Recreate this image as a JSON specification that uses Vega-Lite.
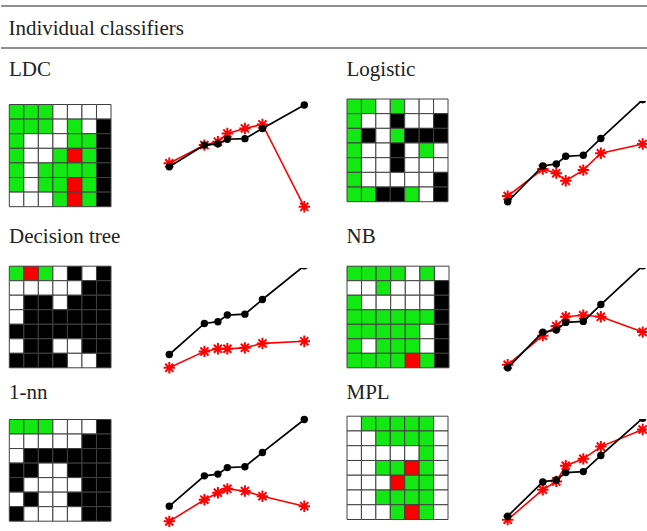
{
  "$schema": "https://vega.github.io/schema/vega-lite/v6.json",
  "padding": {"top": 5, "left": 0, "right": 0, "bottom": 0},
  "background": "white",
  "config": {
    "view": {"stroke": null},
    "font": "Liberation Serif",
    "title": {"font": "Liberation Serif", "fontSize": 21, "fontWeight": "normal", "color": "#222222", "anchor": "start"}
  },
  "datasets": {
    "cells": [
      {"model":"LDC","row":1,"col":1,"cell":"green"},{"model":"LDC","row":1,"col":2,"cell":"green"},{"model":"LDC","row":1,"col":3,"cell":"green"},{"model":"LDC","row":1,"col":4,"cell":"white"},{"model":"LDC","row":1,"col":5,"cell":"white"},{"model":"LDC","row":1,"col":6,"cell":"white"},{"model":"LDC","row":1,"col":7,"cell":"white"},
      {"model":"LDC","row":2,"col":1,"cell":"green"},{"model":"LDC","row":2,"col":2,"cell":"green"},{"model":"LDC","row":2,"col":3,"cell":"green"},{"model":"LDC","row":2,"col":4,"cell":"white"},{"model":"LDC","row":2,"col":5,"cell":"green"},{"model":"LDC","row":2,"col":6,"cell":"white"},{"model":"LDC","row":2,"col":7,"cell":"black"},
      {"model":"LDC","row":3,"col":1,"cell":"green"},{"model":"LDC","row":3,"col":2,"cell":"white"},{"model":"LDC","row":3,"col":3,"cell":"white"},{"model":"LDC","row":3,"col":4,"cell":"white"},{"model":"LDC","row":3,"col":5,"cell":"green"},{"model":"LDC","row":3,"col":6,"cell":"green"},{"model":"LDC","row":3,"col":7,"cell":"black"},
      {"model":"LDC","row":4,"col":1,"cell":"green"},{"model":"LDC","row":4,"col":2,"cell":"white"},{"model":"LDC","row":4,"col":3,"cell":"white"},{"model":"LDC","row":4,"col":4,"cell":"green"},{"model":"LDC","row":4,"col":5,"cell":"red"},{"model":"LDC","row":4,"col":6,"cell":"green"},{"model":"LDC","row":4,"col":7,"cell":"black"},
      {"model":"LDC","row":5,"col":1,"cell":"green"},{"model":"LDC","row":5,"col":2,"cell":"white"},{"model":"LDC","row":5,"col":3,"cell":"green"},{"model":"LDC","row":5,"col":4,"cell":"green"},{"model":"LDC","row":5,"col":5,"cell":"green"},{"model":"LDC","row":5,"col":6,"cell":"green"},{"model":"LDC","row":5,"col":7,"cell":"black"},
      {"model":"LDC","row":6,"col":1,"cell":"green"},{"model":"LDC","row":6,"col":2,"cell":"white"},{"model":"LDC","row":6,"col":3,"cell":"green"},{"model":"LDC","row":6,"col":4,"cell":"green"},{"model":"LDC","row":6,"col":5,"cell":"red"},{"model":"LDC","row":6,"col":6,"cell":"green"},{"model":"LDC","row":6,"col":7,"cell":"black"},
      {"model":"LDC","row":7,"col":1,"cell":"white"},{"model":"LDC","row":7,"col":2,"cell":"white"},{"model":"LDC","row":7,"col":3,"cell":"white"},{"model":"LDC","row":7,"col":4,"cell":"green"},{"model":"LDC","row":7,"col":5,"cell":"red"},{"model":"LDC","row":7,"col":6,"cell":"green"},{"model":"LDC","row":7,"col":7,"cell":"black"},

      {"model":"Logistic","row":1,"col":1,"cell":"green"},{"model":"Logistic","row":1,"col":2,"cell":"green"},{"model":"Logistic","row":1,"col":3,"cell":"white"},{"model":"Logistic","row":1,"col":4,"cell":"green"},{"model":"Logistic","row":1,"col":5,"cell":"white"},{"model":"Logistic","row":1,"col":6,"cell":"white"},{"model":"Logistic","row":1,"col":7,"cell":"white"},
      {"model":"Logistic","row":2,"col":1,"cell":"green"},{"model":"Logistic","row":2,"col":2,"cell":"white"},{"model":"Logistic","row":2,"col":3,"cell":"white"},{"model":"Logistic","row":2,"col":4,"cell":"black"},{"model":"Logistic","row":2,"col":5,"cell":"white"},{"model":"Logistic","row":2,"col":6,"cell":"white"},{"model":"Logistic","row":2,"col":7,"cell":"black"},
      {"model":"Logistic","row":3,"col":1,"cell":"green"},{"model":"Logistic","row":3,"col":2,"cell":"black"},{"model":"Logistic","row":3,"col":3,"cell":"white"},{"model":"Logistic","row":3,"col":4,"cell":"green"},{"model":"Logistic","row":3,"col":5,"cell":"black"},{"model":"Logistic","row":3,"col":6,"cell":"black"},{"model":"Logistic","row":3,"col":7,"cell":"black"},
      {"model":"Logistic","row":4,"col":1,"cell":"green"},{"model":"Logistic","row":4,"col":2,"cell":"white"},{"model":"Logistic","row":4,"col":3,"cell":"white"},{"model":"Logistic","row":4,"col":4,"cell":"black"},{"model":"Logistic","row":4,"col":5,"cell":"white"},{"model":"Logistic","row":4,"col":6,"cell":"green"},{"model":"Logistic","row":4,"col":7,"cell":"white"},
      {"model":"Logistic","row":5,"col":1,"cell":"green"},{"model":"Logistic","row":5,"col":2,"cell":"white"},{"model":"Logistic","row":5,"col":3,"cell":"white"},{"model":"Logistic","row":5,"col":4,"cell":"black"},{"model":"Logistic","row":5,"col":5,"cell":"white"},{"model":"Logistic","row":5,"col":6,"cell":"white"},{"model":"Logistic","row":5,"col":7,"cell":"white"},
      {"model":"Logistic","row":6,"col":1,"cell":"green"},{"model":"Logistic","row":6,"col":2,"cell":"white"},{"model":"Logistic","row":6,"col":3,"cell":"white"},{"model":"Logistic","row":6,"col":4,"cell":"white"},{"model":"Logistic","row":6,"col":5,"cell":"white"},{"model":"Logistic","row":6,"col":6,"cell":"white"},{"model":"Logistic","row":6,"col":7,"cell":"black"},
      {"model":"Logistic","row":7,"col":1,"cell":"green"},{"model":"Logistic","row":7,"col":2,"cell":"green"},{"model":"Logistic","row":7,"col":3,"cell":"black"},{"model":"Logistic","row":7,"col":4,"cell":"black"},{"model":"Logistic","row":7,"col":5,"cell":"green"},{"model":"Logistic","row":7,"col":6,"cell":"white"},{"model":"Logistic","row":7,"col":7,"cell":"black"},

      {"model":"Decision tree","row":1,"col":1,"cell":"green"},{"model":"Decision tree","row":1,"col":2,"cell":"red"},{"model":"Decision tree","row":1,"col":3,"cell":"green"},{"model":"Decision tree","row":1,"col":4,"cell":"white"},{"model":"Decision tree","row":1,"col":5,"cell":"black"},{"model":"Decision tree","row":1,"col":6,"cell":"white"},{"model":"Decision tree","row":1,"col":7,"cell":"black"},
      {"model":"Decision tree","row":2,"col":1,"cell":"white"},{"model":"Decision tree","row":2,"col":2,"cell":"white"},{"model":"Decision tree","row":2,"col":3,"cell":"white"},{"model":"Decision tree","row":2,"col":4,"cell":"white"},{"model":"Decision tree","row":2,"col":5,"cell":"white"},{"model":"Decision tree","row":2,"col":6,"cell":"black"},{"model":"Decision tree","row":2,"col":7,"cell":"black"},
      {"model":"Decision tree","row":3,"col":1,"cell":"white"},{"model":"Decision tree","row":3,"col":2,"cell":"black"},{"model":"Decision tree","row":3,"col":3,"cell":"black"},{"model":"Decision tree","row":3,"col":4,"cell":"white"},{"model":"Decision tree","row":3,"col":5,"cell":"black"},{"model":"Decision tree","row":3,"col":6,"cell":"black"},{"model":"Decision tree","row":3,"col":7,"cell":"black"},
      {"model":"Decision tree","row":4,"col":1,"cell":"white"},{"model":"Decision tree","row":4,"col":2,"cell":"black"},{"model":"Decision tree","row":4,"col":3,"cell":"black"},{"model":"Decision tree","row":4,"col":4,"cell":"black"},{"model":"Decision tree","row":4,"col":5,"cell":"black"},{"model":"Decision tree","row":4,"col":6,"cell":"black"},{"model":"Decision tree","row":4,"col":7,"cell":"black"},
      {"model":"Decision tree","row":5,"col":1,"cell":"black"},{"model":"Decision tree","row":5,"col":2,"cell":"black"},{"model":"Decision tree","row":5,"col":3,"cell":"black"},{"model":"Decision tree","row":5,"col":4,"cell":"black"},{"model":"Decision tree","row":5,"col":5,"cell":"black"},{"model":"Decision tree","row":5,"col":6,"cell":"black"},{"model":"Decision tree","row":5,"col":7,"cell":"black"},
      {"model":"Decision tree","row":6,"col":1,"cell":"white"},{"model":"Decision tree","row":6,"col":2,"cell":"black"},{"model":"Decision tree","row":6,"col":3,"cell":"black"},{"model":"Decision tree","row":6,"col":4,"cell":"white"},{"model":"Decision tree","row":6,"col":5,"cell":"white"},{"model":"Decision tree","row":6,"col":6,"cell":"black"},{"model":"Decision tree","row":6,"col":7,"cell":"black"},
      {"model":"Decision tree","row":7,"col":1,"cell":"black"},{"model":"Decision tree","row":7,"col":2,"cell":"black"},{"model":"Decision tree","row":7,"col":3,"cell":"black"},{"model":"Decision tree","row":7,"col":4,"cell":"black"},{"model":"Decision tree","row":7,"col":5,"cell":"white"},{"model":"Decision tree","row":7,"col":6,"cell":"white"},{"model":"Decision tree","row":7,"col":7,"cell":"black"},

      {"model":"NB","row":1,"col":1,"cell":"green"},{"model":"NB","row":1,"col":2,"cell":"green"},{"model":"NB","row":1,"col":3,"cell":"green"},{"model":"NB","row":1,"col":4,"cell":"green"},{"model":"NB","row":1,"col":5,"cell":"white"},{"model":"NB","row":1,"col":6,"cell":"green"},{"model":"NB","row":1,"col":7,"cell":"white"},
      {"model":"NB","row":2,"col":1,"cell":"white"},{"model":"NB","row":2,"col":2,"cell":"white"},{"model":"NB","row":2,"col":3,"cell":"green"},{"model":"NB","row":2,"col":4,"cell":"white"},{"model":"NB","row":2,"col":5,"cell":"white"},{"model":"NB","row":2,"col":6,"cell":"white"},{"model":"NB","row":2,"col":7,"cell":"black"},
      {"model":"NB","row":3,"col":1,"cell":"green"},{"model":"NB","row":3,"col":2,"cell":"white"},{"model":"NB","row":3,"col":3,"cell":"white"},{"model":"NB","row":3,"col":4,"cell":"white"},{"model":"NB","row":3,"col":5,"cell":"white"},{"model":"NB","row":3,"col":6,"cell":"white"},{"model":"NB","row":3,"col":7,"cell":"black"},
      {"model":"NB","row":4,"col":1,"cell":"green"},{"model":"NB","row":4,"col":2,"cell":"green"},{"model":"NB","row":4,"col":3,"cell":"green"},{"model":"NB","row":4,"col":4,"cell":"green"},{"model":"NB","row":4,"col":5,"cell":"green"},{"model":"NB","row":4,"col":6,"cell":"green"},{"model":"NB","row":4,"col":7,"cell":"black"},
      {"model":"NB","row":5,"col":1,"cell":"green"},{"model":"NB","row":5,"col":2,"cell":"green"},{"model":"NB","row":5,"col":3,"cell":"green"},{"model":"NB","row":5,"col":4,"cell":"green"},{"model":"NB","row":5,"col":5,"cell":"green"},{"model":"NB","row":5,"col":6,"cell":"white"},{"model":"NB","row":5,"col":7,"cell":"black"},
      {"model":"NB","row":6,"col":1,"cell":"green"},{"model":"NB","row":6,"col":2,"cell":"white"},{"model":"NB","row":6,"col":3,"cell":"green"},{"model":"NB","row":6,"col":4,"cell":"green"},{"model":"NB","row":6,"col":5,"cell":"green"},{"model":"NB","row":6,"col":6,"cell":"white"},{"model":"NB","row":6,"col":7,"cell":"black"},
      {"model":"NB","row":7,"col":1,"cell":"green"},{"model":"NB","row":7,"col":2,"cell":"green"},{"model":"NB","row":7,"col":3,"cell":"green"},{"model":"NB","row":7,"col":4,"cell":"green"},{"model":"NB","row":7,"col":5,"cell":"red"},{"model":"NB","row":7,"col":6,"cell":"green"},{"model":"NB","row":7,"col":7,"cell":"black"},

      {"model":"1-nn","row":1,"col":1,"cell":"green"},{"model":"1-nn","row":1,"col":2,"cell":"green"},{"model":"1-nn","row":1,"col":3,"cell":"green"},{"model":"1-nn","row":1,"col":4,"cell":"white"},{"model":"1-nn","row":1,"col":5,"cell":"white"},{"model":"1-nn","row":1,"col":6,"cell":"white"},{"model":"1-nn","row":1,"col":7,"cell":"black"},
      {"model":"1-nn","row":2,"col":1,"cell":"white"},{"model":"1-nn","row":2,"col":2,"cell":"white"},{"model":"1-nn","row":2,"col":3,"cell":"white"},{"model":"1-nn","row":2,"col":4,"cell":"white"},{"model":"1-nn","row":2,"col":5,"cell":"white"},{"model":"1-nn","row":2,"col":6,"cell":"black"},{"model":"1-nn","row":2,"col":7,"cell":"black"},
      {"model":"1-nn","row":3,"col":1,"cell":"white"},{"model":"1-nn","row":3,"col":2,"cell":"black"},{"model":"1-nn","row":3,"col":3,"cell":"black"},{"model":"1-nn","row":3,"col":4,"cell":"black"},{"model":"1-nn","row":3,"col":5,"cell":"black"},{"model":"1-nn","row":3,"col":6,"cell":"black"},{"model":"1-nn","row":3,"col":7,"cell":"black"},
      {"model":"1-nn","row":4,"col":1,"cell":"black"},{"model":"1-nn","row":4,"col":2,"cell":"black"},{"model":"1-nn","row":4,"col":3,"cell":"white"},{"model":"1-nn","row":4,"col":4,"cell":"white"},{"model":"1-nn","row":4,"col":5,"cell":"black"},{"model":"1-nn","row":4,"col":6,"cell":"black"},{"model":"1-nn","row":4,"col":7,"cell":"black"},
      {"model":"1-nn","row":5,"col":1,"cell":"black"},{"model":"1-nn","row":5,"col":2,"cell":"white"},{"model":"1-nn","row":5,"col":3,"cell":"white"},{"model":"1-nn","row":5,"col":4,"cell":"white"},{"model":"1-nn","row":5,"col":5,"cell":"white"},{"model":"1-nn","row":5,"col":6,"cell":"black"},{"model":"1-nn","row":5,"col":7,"cell":"black"},
      {"model":"1-nn","row":6,"col":1,"cell":"white"},{"model":"1-nn","row":6,"col":2,"cell":"black"},{"model":"1-nn","row":6,"col":3,"cell":"white"},{"model":"1-nn","row":6,"col":4,"cell":"white"},{"model":"1-nn","row":6,"col":5,"cell":"black"},{"model":"1-nn","row":6,"col":6,"cell":"black"},{"model":"1-nn","row":6,"col":7,"cell":"black"},
      {"model":"1-nn","row":7,"col":1,"cell":"black"},{"model":"1-nn","row":7,"col":2,"cell":"white"},{"model":"1-nn","row":7,"col":3,"cell":"white"},{"model":"1-nn","row":7,"col":4,"cell":"white"},{"model":"1-nn","row":7,"col":5,"cell":"white"},{"model":"1-nn","row":7,"col":6,"cell":"black"},{"model":"1-nn","row":7,"col":7,"cell":"black"},

      {"model":"MPL","row":1,"col":1,"cell":"white"},{"model":"MPL","row":1,"col":2,"cell":"green"},{"model":"MPL","row":1,"col":3,"cell":"green"},{"model":"MPL","row":1,"col":4,"cell":"green"},{"model":"MPL","row":1,"col":5,"cell":"green"},{"model":"MPL","row":1,"col":6,"cell":"green"},{"model":"MPL","row":1,"col":7,"cell":"white"},
      {"model":"MPL","row":2,"col":1,"cell":"white"},{"model":"MPL","row":2,"col":2,"cell":"white"},{"model":"MPL","row":2,"col":3,"cell":"green"},{"model":"MPL","row":2,"col":4,"cell":"green"},{"model":"MPL","row":2,"col":5,"cell":"green"},{"model":"MPL","row":2,"col":6,"cell":"green"},{"model":"MPL","row":2,"col":7,"cell":"white"},
      {"model":"MPL","row":3,"col":1,"cell":"white"},{"model":"MPL","row":3,"col":2,"cell":"white"},{"model":"MPL","row":3,"col":3,"cell":"white"},{"model":"MPL","row":3,"col":4,"cell":"white"},{"model":"MPL","row":3,"col":5,"cell":"white"},{"model":"MPL","row":3,"col":6,"cell":"green"},{"model":"MPL","row":3,"col":7,"cell":"white"},
      {"model":"MPL","row":4,"col":1,"cell":"white"},{"model":"MPL","row":4,"col":2,"cell":"white"},{"model":"MPL","row":4,"col":3,"cell":"green"},{"model":"MPL","row":4,"col":4,"cell":"green"},{"model":"MPL","row":4,"col":5,"cell":"red"},{"model":"MPL","row":4,"col":6,"cell":"green"},{"model":"MPL","row":4,"col":7,"cell":"white"},
      {"model":"MPL","row":5,"col":1,"cell":"white"},{"model":"MPL","row":5,"col":2,"cell":"white"},{"model":"MPL","row":5,"col":3,"cell":"white"},{"model":"MPL","row":5,"col":4,"cell":"red"},{"model":"MPL","row":5,"col":5,"cell":"green"},{"model":"MPL","row":5,"col":6,"cell":"green"},{"model":"MPL","row":5,"col":7,"cell":"white"},
      {"model":"MPL","row":6,"col":1,"cell":"white"},{"model":"MPL","row":6,"col":2,"cell":"white"},{"model":"MPL","row":6,"col":3,"cell":"green"},{"model":"MPL","row":6,"col":4,"cell":"green"},{"model":"MPL","row":6,"col":5,"cell":"green"},{"model":"MPL","row":6,"col":6,"cell":"green"},{"model":"MPL","row":6,"col":7,"cell":"white"},
      {"model":"MPL","row":7,"col":1,"cell":"white"},{"model":"MPL","row":7,"col":2,"cell":"white"},{"model":"MPL","row":7,"col":3,"cell":"white"},{"model":"MPL","row":7,"col":4,"cell":"green"},{"model":"MPL","row":7,"col":5,"cell":"red"},{"model":"MPL","row":7,"col":6,"cell":"green"},{"model":"MPL","row":7,"col":7,"cell":"white"}
    ],
    "curves": [
      {"model":"LDC","series":"black","x":0,"y":0},{"model":"LDC","series":"black","x":26,"y":35},{"model":"LDC","series":"black","x":36,"y":37},{"model":"LDC","series":"black","x":43,"y":44.5},{"model":"LDC","series":"black","x":56,"y":45.5},{"model":"LDC","series":"black","x":69,"y":62},{"model":"LDC","series":"black","x":100,"y":100},
      {"model":"LDC","series":"red","x":0,"y":5.5},{"model":"LDC","series":"red","x":26,"y":35},{"model":"LDC","series":"red","x":36,"y":40.5},{"model":"LDC","series":"red","x":43,"y":54},{"model":"LDC","series":"red","x":56,"y":62},{"model":"LDC","series":"red","x":69,"y":68.5},{"model":"LDC","series":"red","x":100,"y":-65},
      {"model":"Logistic","series":"black","x":0,"y":0},{"model":"Logistic","series":"black","x":26,"y":35},{"model":"Logistic","series":"black","x":36,"y":37},{"model":"Logistic","series":"black","x":43,"y":44.5},{"model":"Logistic","series":"black","x":56,"y":45.5},{"model":"Logistic","series":"black","x":69,"y":62},{"model":"Logistic","series":"black","x":100,"y":100},
      {"model":"Logistic","series":"red","x":0,"y":5.5},{"model":"Logistic","series":"red","x":26,"y":32},{"model":"Logistic","series":"red","x":36,"y":28},{"model":"Logistic","series":"red","x":43,"y":20.5},{"model":"Logistic","series":"red","x":56,"y":31},{"model":"Logistic","series":"red","x":69,"y":47.5},{"model":"Logistic","series":"red","x":100,"y":56.5},
      {"model":"Decision tree","series":"black","x":0,"y":0},{"model":"Decision tree","series":"black","x":26,"y":35},{"model":"Decision tree","series":"black","x":36,"y":37},{"model":"Decision tree","series":"black","x":43,"y":44.5},{"model":"Decision tree","series":"black","x":56,"y":45.5},{"model":"Decision tree","series":"black","x":69,"y":62},{"model":"Decision tree","series":"black","x":100,"y":100},
      {"model":"Decision tree","series":"red","x":0,"y":-15},{"model":"Decision tree","series":"red","x":26,"y":3.5},{"model":"Decision tree","series":"red","x":36,"y":6.5},{"model":"Decision tree","series":"red","x":43,"y":6.5},{"model":"Decision tree","series":"red","x":56,"y":7.5},{"model":"Decision tree","series":"red","x":69,"y":12.5},{"model":"Decision tree","series":"red","x":100,"y":15},
      {"model":"NB","series":"black","x":0,"y":0},{"model":"NB","series":"black","x":26,"y":35},{"model":"NB","series":"black","x":36,"y":37},{"model":"NB","series":"black","x":43,"y":44.5},{"model":"NB","series":"black","x":56,"y":45.5},{"model":"NB","series":"black","x":69,"y":62},{"model":"NB","series":"black","x":100,"y":100},
      {"model":"NB","series":"red","x":0,"y":3},{"model":"NB","series":"red","x":26,"y":31.5},{"model":"NB","series":"red","x":36,"y":41},{"model":"NB","series":"red","x":43,"y":50},{"model":"NB","series":"red","x":56,"y":51.5},{"model":"NB","series":"red","x":69,"y":50},{"model":"NB","series":"red","x":100,"y":35},
      {"model":"1-nn","series":"black","x":0,"y":0},{"model":"1-nn","series":"black","x":26,"y":35},{"model":"1-nn","series":"black","x":36,"y":37},{"model":"1-nn","series":"black","x":43,"y":44.5},{"model":"1-nn","series":"black","x":56,"y":45.5},{"model":"1-nn","series":"black","x":69,"y":62},{"model":"1-nn","series":"black","x":100,"y":100},
      {"model":"1-nn","series":"red","x":0,"y":-17.5},{"model":"1-nn","series":"red","x":26,"y":7.5},{"model":"1-nn","series":"red","x":36,"y":15.5},{"model":"1-nn","series":"red","x":43,"y":20},{"model":"1-nn","series":"red","x":56,"y":17.5},{"model":"1-nn","series":"red","x":69,"y":11.5},{"model":"1-nn","series":"red","x":100,"y":0},
      {"model":"MPL","series":"black","x":0,"y":0},{"model":"MPL","series":"black","x":26,"y":35},{"model":"MPL","series":"black","x":36,"y":37},{"model":"MPL","series":"black","x":43,"y":44.5},{"model":"MPL","series":"black","x":56,"y":45.5},{"model":"MPL","series":"black","x":69,"y":62},{"model":"MPL","series":"black","x":100,"y":100},
      {"model":"MPL","series":"red","x":0,"y":-3.5},{"model":"MPL","series":"red","x":26,"y":27},{"model":"MPL","series":"red","x":36,"y":35.5},{"model":"MPL","series":"red","x":43,"y":51.5},{"model":"MPL","series":"red","x":56,"y":58.5},{"model":"MPL","series":"red","x":69,"y":71},{"model":"MPL","series":"red","x":100,"y":88.5}
    ]
  },
  "spacing": 0,
  "vconcat": [
    {
      "width": 647,
      "height": 53,
      "title": {"text": "Individual classifiers", "offset": -34, "dx": 8},
      "data": {"values": [{"edge": 0}, {"edge": 1}]},
      "mark": {"type": "rule", "color": "#222222", "strokeWidth": 1.2},
      "encoding": {
        "y": {"field": "edge", "type": "quantitative", "axis": null, "scale": {"domain": [0, 1], "range": [42, 0]}}
      }
    },
    {
      "hconcat": [
        {
          "width": 110, "height": 124,
          "title": {"text": "LDC", "offset": 21, "dx": 8},
          "data": {"name": "cells"},
          "transform": [{"filter": "datum.model === 'LDC'"}],
          "mark": {"type": "rect", "stroke": "#404040", "strokeWidth": 1},
          "encoding": {
            "x": {"field": "col", "type": "ordinal", "axis": null, "scale": {"range": [8.3, 110], "paddingInner": 0, "paddingOuter": 0}},
            "y": {"field": "row", "type": "ordinal", "axis": null, "scale": {"range": [3.5, 105.7], "paddingInner": 0, "paddingOuter": 0}},
            "color": {"field": "cell", "type": "nominal", "legend": null, "scale": {"domain": ["green", "white", "black", "red"], "range": ["#12e812", "#ffffff", "#000000", "#f80000"]}}
          }
        },
        {
          "width": 196, "height": 124,
          "data": {"name": "curves"},
          "transform": [{"filter": "datum.model === 'LDC'"}],
          "encoding": {
            "x": {"field": "x", "type": "quantitative", "axis": null, "scale": {"domain": [0, 100], "range": [38.3, 173.3], "nice": false, "zero": false}},
            "y": {"field": "y", "type": "quantitative", "axis": null, "scale": {"domain": [0, 100], "range": [65.7, 4.0], "nice": false, "zero": false}}
          },
          "layer": [
            {"transform": [{"filter": "datum.series === 'red'"}], "mark": {"type": "line", "color": "#ff0000", "strokeWidth": 1.6}},
            {"transform": [{"filter": "datum.series === 'red'"}], "mark": {"type": "point", "shape": "M0,-1L0,1M-1,0L1,0M-0.71,-0.71L0.71,0.71M-0.71,0.71L0.71,-0.71", "filled": false, "color": "#ff0000", "strokeWidth": 2, "size": 130, "opacity": 1}},
            {"transform": [{"filter": "datum.series === 'black'"}], "mark": {"type": "line", "color": "#000000", "strokeWidth": 1.7}},
            {"transform": [{"filter": "datum.series === 'black'"}], "mark": {"type": "circle", "color": "#000000", "size": 55, "opacity": 1}}
          ]
        },
        {
          "width": 102, "height": 124,
          "title": {"text": "Logistic", "offset": 18.5, "dx": 0},
          "data": {"name": "cells"},
          "transform": [{"filter": "datum.model === 'Logistic'"}],
          "mark": {"type": "rect", "stroke": "#404040", "strokeWidth": 1},
          "encoding": {
            "x": {"field": "col", "type": "ordinal", "axis": null, "scale": {"range": [0, 101], "paddingInner": 0, "paddingOuter": 0}},
            "y": {"field": "row", "type": "ordinal", "axis": null, "scale": {"range": [-2, 100.7], "paddingInner": 0, "paddingOuter": 0}},
            "color": {"field": "cell", "type": "nominal", "legend": null, "scale": {"domain": ["green", "white", "black", "red"], "range": ["#12e812", "#ffffff", "#000000", "#f80000"]}}
          }
        },
        {
          "width": 179, "height": 124,
          "data": {"name": "curves"},
          "transform": [{"filter": "datum.model === 'Logistic'"}],
          "encoding": {
            "x": {"field": "x", "type": "quantitative", "axis": null, "scale": {"domain": [0, 100], "range": [38.7, 173.7], "nice": false, "zero": false}},
            "y": {"field": "y", "type": "quantitative", "axis": null, "scale": {"domain": [0, 100], "range": [100.7, -1.3], "nice": false, "zero": false}}
          },
          "layer": [
            {"transform": [{"filter": "datum.series === 'red'"}], "mark": {"type": "line", "color": "#ff0000", "strokeWidth": 1.6, "clip": true}},
            {"transform": [{"filter": "datum.series === 'red'"}], "mark": {"type": "point", "shape": "M0,-1L0,1M-1,0L1,0M-0.71,-0.71L0.71,0.71M-0.71,0.71L0.71,-0.71", "filled": false, "color": "#ff0000", "strokeWidth": 2, "size": 130, "opacity": 1, "clip": true}},
            {"transform": [{"filter": "datum.series === 'black'"}], "mark": {"type": "line", "color": "#000000", "strokeWidth": 1.7, "clip": true}},
            {"transform": [{"filter": "datum.series === 'black'"}], "mark": {"type": "circle", "color": "#000000", "size": 55, "opacity": 1, "clip": true}}
          ]
        }
      ],
      "spacing": 20,
      "bounds": "flush",
      "resolve": {"scale": {"x": "independent", "y": "independent"}}
    },
    {
      "hconcat": [
        {
          "width": 110, "height": 112.5,
          "title": {"text": "Decision tree", "offset": 19.2, "dx": 8},
          "data": {"name": "cells"},
          "transform": [{"filter": "datum.model === 'Decision tree'"}],
          "mark": {"type": "rect", "stroke": "#404040", "strokeWidth": 1},
          "encoding": {
            "x": {"field": "col", "type": "ordinal", "axis": null, "scale": {"range": [8.3, 110], "paddingInner": 0, "paddingOuter": 0}},
            "y": {"field": "row", "type": "ordinal", "axis": null, "scale": {"range": [-1.8, 99.8], "paddingInner": 0, "paddingOuter": 0}},
            "color": {"field": "cell", "type": "nominal", "legend": null, "scale": {"domain": ["green", "white", "black", "red"], "range": ["#12e812", "#ffffff", "#000000", "#f80000"]}}
          }
        },
        {
          "width": 196, "height": 112.5,
          "data": {"name": "curves"},
          "transform": [{"filter": "datum.model === 'Decision tree'"}],
          "encoding": {
            "x": {"field": "x", "type": "quantitative", "axis": null, "scale": {"domain": [0, 100], "range": [38.3, 173.3], "nice": false, "zero": false}},
            "y": {"field": "y", "type": "quantitative", "axis": null, "scale": {"domain": [0, 100], "range": [86.5, -2.2], "nice": false, "zero": false}}
          },
          "layer": [
            {"transform": [{"filter": "datum.series === 'red'"}], "mark": {"type": "line", "color": "#ff0000", "strokeWidth": 1.6, "clip": true}},
            {"transform": [{"filter": "datum.series === 'red'"}], "mark": {"type": "point", "shape": "M0,-1L0,1M-1,0L1,0M-0.71,-0.71L0.71,0.71M-0.71,0.71L0.71,-0.71", "filled": false, "color": "#ff0000", "strokeWidth": 2, "size": 130, "opacity": 1, "clip": true}},
            {"transform": [{"filter": "datum.series === 'black'"}], "mark": {"type": "line", "color": "#000000", "strokeWidth": 1.7, "clip": true}},
            {"transform": [{"filter": "datum.series === 'black'"}], "mark": {"type": "circle", "color": "#000000", "size": 55, "opacity": 1, "clip": true}}
          ]
        },
        {
          "width": 102, "height": 112.5,
          "title": {"text": "NB", "offset": 19.2, "dx": 0},
          "data": {"name": "cells"},
          "transform": [{"filter": "datum.model === 'NB'"}],
          "mark": {"type": "rect", "stroke": "#404040", "strokeWidth": 1},
          "encoding": {
            "x": {"field": "col", "type": "ordinal", "axis": null, "scale": {"range": [0, 102], "paddingInner": 0, "paddingOuter": 0}},
            "y": {"field": "row", "type": "ordinal", "axis": null, "scale": {"range": [-1.8, 99.8], "paddingInner": 0, "paddingOuter": 0}},
            "color": {"field": "cell", "type": "nominal", "legend": null, "scale": {"domain": ["green", "white", "black", "red"], "range": ["#12e812", "#ffffff", "#000000", "#f80000"]}}
          }
        },
        {
          "width": 179, "height": 112.5,
          "data": {"name": "curves"},
          "transform": [{"filter": "datum.model === 'NB'"}],
          "encoding": {
            "x": {"field": "x", "type": "quantitative", "axis": null, "scale": {"domain": [0, 100], "range": [38.7, 173.7], "nice": false, "zero": false}},
            "y": {"field": "y", "type": "quantitative", "axis": null, "scale": {"domain": [0, 100], "range": [99.8, -2.2], "nice": false, "zero": false}}
          },
          "layer": [
            {"transform": [{"filter": "datum.series === 'red'"}], "mark": {"type": "line", "color": "#ff0000", "strokeWidth": 1.6, "clip": true}},
            {"transform": [{"filter": "datum.series === 'red'"}], "mark": {"type": "point", "shape": "M0,-1L0,1M-1,0L1,0M-0.71,-0.71L0.71,0.71M-0.71,0.71L0.71,-0.71", "filled": false, "color": "#ff0000", "strokeWidth": 2, "size": 130, "opacity": 1, "clip": true}},
            {"transform": [{"filter": "datum.series === 'black'"}], "mark": {"type": "line", "color": "#000000", "strokeWidth": 1.7, "clip": true}},
            {"transform": [{"filter": "datum.series === 'black'"}], "mark": {"type": "circle", "color": "#000000", "size": 55, "opacity": 1, "clip": true}}
          ]
        }
      ],
      "spacing": 20,
      "bounds": "flush",
      "resolve": {"scale": {"x": "independent", "y": "independent"}}
    },
    {
      "hconcat": [
        {
          "width": 110, "height": 110,
          "title": {"text": "1-nn", "offset": 16.5, "dx": 8},
          "data": {"name": "cells"},
          "transform": [{"filter": "datum.model === '1-nn'"}],
          "mark": {"type": "rect", "stroke": "#404040", "strokeWidth": 1},
          "encoding": {
            "x": {"field": "col", "type": "ordinal", "axis": null, "scale": {"range": [8.3, 110], "paddingInner": 0, "paddingOuter": 0}},
            "y": {"field": "row", "type": "ordinal", "axis": null, "scale": {"range": [0.5, 102.2], "paddingInner": 0, "paddingOuter": 0}},
            "color": {"field": "cell", "type": "nominal", "legend": null, "scale": {"domain": ["green", "white", "black", "red"], "range": ["#12e812", "#ffffff", "#000000", "#f80000"]}}
          }
        },
        {
          "width": 196, "height": 110,
          "data": {"name": "curves"},
          "transform": [{"filter": "datum.model === '1-nn'"}],
          "encoding": {
            "x": {"field": "x", "type": "quantitative", "axis": null, "scale": {"domain": [0, 100], "range": [38.3, 173.3], "nice": false, "zero": false}},
            "y": {"field": "y", "type": "quantitative", "axis": null, "scale": {"domain": [0, 100], "range": [87.2, 0.5], "nice": false, "zero": false}}
          },
          "layer": [
            {"transform": [{"filter": "datum.series === 'red'"}], "mark": {"type": "line", "color": "#ff0000", "strokeWidth": 1.6}},
            {"transform": [{"filter": "datum.series === 'red'"}], "mark": {"type": "point", "shape": "M0,-1L0,1M-1,0L1,0M-0.71,-0.71L0.71,0.71M-0.71,0.71L0.71,-0.71", "filled": false, "color": "#ff0000", "strokeWidth": 2, "size": 130, "opacity": 1}},
            {"transform": [{"filter": "datum.series === 'black'"}], "mark": {"type": "line", "color": "#000000", "strokeWidth": 1.7}},
            {"transform": [{"filter": "datum.series === 'black'"}], "mark": {"type": "circle", "color": "#000000", "size": 55, "opacity": 1}}
          ]
        },
        {
          "width": 102, "height": 110,
          "title": {"text": "MPL", "offset": 13.2, "dx": 0},
          "data": {"name": "cells"},
          "transform": [{"filter": "datum.model === 'MPL'"}],
          "mark": {"type": "rect", "stroke": "#404040", "strokeWidth": 1},
          "encoding": {
            "x": {"field": "col", "type": "ordinal", "axis": null, "scale": {"range": [0, 101], "paddingInner": 0, "paddingOuter": 0}},
            "y": {"field": "row", "type": "ordinal", "axis": null, "scale": {"range": [-2.8, 100.5], "paddingInner": 0, "paddingOuter": 0}},
            "color": {"field": "cell", "type": "nominal", "legend": null, "scale": {"domain": ["green", "white", "black", "red"], "range": ["#12e812", "#ffffff", "#000000", "#f80000"]}}
          }
        },
        {
          "width": 179, "height": 110,
          "data": {"name": "curves"},
          "transform": [{"filter": "datum.model === 'MPL'"}],
          "encoding": {
            "x": {"field": "x", "type": "quantitative", "axis": null, "scale": {"domain": [0, 100], "range": [38.7, 173.7], "nice": false, "zero": false}},
            "y": {"field": "y", "type": "quantitative", "axis": null, "scale": {"domain": [0, 100], "range": [97.2, -0.8], "nice": false, "zero": false}}
          },
          "layer": [
            {"transform": [{"filter": "datum.series === 'red'"}], "mark": {"type": "line", "color": "#ff0000", "strokeWidth": 1.6, "clip": true}},
            {"transform": [{"filter": "datum.series === 'red'"}], "mark": {"type": "point", "shape": "M0,-1L0,1M-1,0L1,0M-0.71,-0.71L0.71,0.71M-0.71,0.71L0.71,-0.71", "filled": false, "color": "#ff0000", "strokeWidth": 2, "size": 130, "opacity": 1, "clip": true}},
            {"transform": [{"filter": "datum.series === 'black'"}], "mark": {"type": "line", "color": "#000000", "strokeWidth": 1.7, "clip": true}},
            {"transform": [{"filter": "datum.series === 'black'"}], "mark": {"type": "circle", "color": "#000000", "size": 55, "opacity": 1, "clip": true}}
          ]
        }
      ],
      "spacing": 20,
      "bounds": "flush",
      "resolve": {"scale": {"x": "independent", "y": "independent"}}
    }
  ]
}
